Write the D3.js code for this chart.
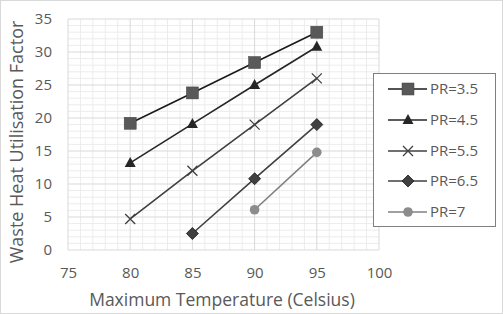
<!DOCTYPE html>
<html><head><meta charset="utf-8">
<script src="https://d3js.org/d3.v7.min.js"></script>
<style>body{margin:0;background:#fff}svg{display:block}text{font-family:"Open Sans","Liberation Sans",sans-serif;fill:#595959}</style>
</head><body><svg id="c" width="503" height="314"></svg>
<script>
const xTicks=[75,80,85,90,95,100];
const yTicks=[0,5,10,15,20,25,30,35];
const seriesNames=["PR=3.5","PR=4.5","PR=5.5","PR=6.5","PR=7"];
const pr35=[[80,19.2],[85,23.8],[90,28.4],[95,33]];
const pr45=[[80,13.2],[85,19.1],[90,25],[95,30.8]];
const pr55=[[80,4.7],[85,12],[90,19],[95,26]];
const pr65=[[85,2.5],[90,10.8],[95,19]];
const pr7=[[90,6.1],[95,14.8]];
const seriesData=[pr35,pr45,pr55,pr65,pr7];
const lineColors=["#1a1a1a","#262626","#404040","#404040","#808080"];
const markerFill=["#595959","#262626","none","#404040","#8c8c8c"];
const markerType=["square","triangle","x","diamond","circle"];

const svg=d3.select("#c");
svg.append("rect").attr("x",0.5).attr("y",0.5).attr("width",502).attr("height",313).attr("fill","#fff").attr("stroke","#d9d9d9");
const x=d3.scaleLinear().domain([75,100]).range([68,379]);
const y=d3.scaleLinear().domain([0,35]).range([250,19]);
const g=svg.append("g");
d3.range(75,101,1).forEach(v=>{if(v%5)g.append("line").attr("x1",x(v)).attr("x2",x(v)).attr("y1",y(0)).attr("y2",y(35)).attr("stroke","#ececec");});
d3.range(0,36,1).forEach(v=>{if(v%5)g.append("line").attr("y1",y(v)).attr("y2",y(v)).attr("x1",x(75)).attr("x2",x(100)).attr("stroke","#ececec");});
xTicks.forEach(v=>g.append("line").attr("x1",x(v)).attr("x2",x(v)).attr("y1",y(0)).attr("y2",y(35)).attr("stroke","#d9d9d9"));
yTicks.forEach(v=>g.append("line").attr("y1",y(v)).attr("y2",y(v)).attr("x1",x(75)).attr("x2",x(100)).attr("stroke","#d9d9d9"));
const xa=svg.append("g").attr("transform","translate(0,250)").call(d3.axisBottom(x).tickValues(xTicks).tickSize(0).tickPadding(17));
xa.select(".domain").remove();
xa.selectAll("text").attr("font-size",15).style("fill","#595959");
const ya=svg.append("g").attr("transform","translate(55,0)").call(d3.axisLeft(y).tickValues(yTicks).tickSize(0).tickPadding(3));
ya.select(".domain").remove();
ya.selectAll("text").attr("font-size",15).style("fill","#595959");
svg.append("text").attr("x",222).attr("y",306).attr("text-anchor","middle").attr("font-size",17.5).text("Maximum Temperature (Celsius)");
svg.append("text").attr("transform","translate(23,142) rotate(-90)").attr("text-anchor","middle").attr("font-size",18).text("Waste Heat Utilisation Factor");

function marker(sel,t,i){
  const c=lineColors[i],f=markerFill[i];
  if(t==="square")sel.append("rect").attr("x",-6).attr("y",-6).attr("width",12).attr("height",12).attr("fill",f).attr("stroke","#404040").attr("stroke-width",0.5);
  else if(t==="triangle")sel.append("path").attr("d","M0,-6L5.5,4L-5.5,4Z").attr("fill",f);
  else if(t==="x")sel.append("path").attr("d","M-5,-5L5,5M-5,5L5,-5").attr("stroke",c).attr("stroke-width",1.3).attr("fill","none");
  else if(t==="diamond")sel.append("path").attr("d","M0,-6L6,0L0,6L-6,0Z").attr("fill",f).attr("stroke","#1a1a1a").attr("stroke-width",0.8);
  else sel.append("circle").attr("r",4.8).attr("fill",f);
}
const line=d3.line().x(d=>x(d[0])).y(d=>y(d[1]));
seriesData.forEach((data,i)=>{
  svg.append("path").datum(data).attr("d",line).attr("fill","none").attr("stroke",lineColors[i]).attr("stroke-width",1.6);
  data.forEach(d=>marker(svg.append("g").attr("transform",`translate(${x(d[0])},${y(d[1])})`),markerType[i],i));
});
const lg=svg.append("g");
lg.append("rect").attr("x",373.5).attr("y",73.5).attr("width",122).attr("height",153).attr("fill","#fff").attr("stroke","#7f7f7f");
const ly=[89,120,151,181,212];
seriesNames.forEach((n,i)=>{
  lg.append("line").attr("x1",388).attr("x2",427).attr("y1",ly[i]).attr("y2",ly[i]).attr("stroke",lineColors[i]).attr("stroke-width",1.6);
  marker(lg.append("g").attr("transform",`translate(408,${ly[i]})`),markerType[i],i);
  lg.append("text").attr("x",430).attr("y",ly[i]).attr("dy","0.35em").attr("font-size",15).text(n);
});
</script></body></html>
